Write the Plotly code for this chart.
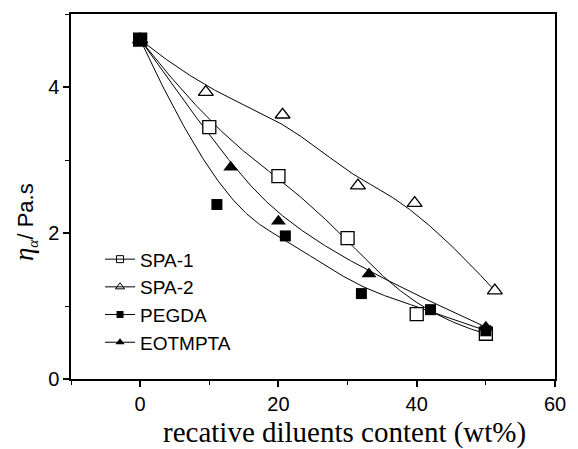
import numpy as np
import plotly.graph_objects as go

# ---- data ----
spa1_x = [0, 10, 20, 30, 40, 50]
spa1_y = [4.65, 3.45, 2.78, 1.93, 0.89, 0.62]
spa2_x = [0, 9.5, 20.6, 31.5, 39.7, 51.3]
spa2_y = [4.65, 3.93, 3.62, 2.65, 2.41, 1.21]
pegda_x = [0, 11.1, 21.0, 32.0, 42.0, 50.0]
pegda_y = [4.65, 2.39, 1.96, 1.17, 0.95, 0.66]
eot_x = [0, 13.1, 20.0, 33.1, 50.0]
eot_y = [4.65, 2.90, 2.16, 1.44, 0.71]
series_names = ["SPA-1", "SPA-2", "PEGDA", "EOTMPTA"]
x_ticks = [0, 20, 40, 60]
y_ticks = [0, 2, 4]


def bspline(xs, ys, k=3, n=300):
    """Clamped uniform B-spline using the data points as control points (Origin-style B-spline)."""
    P = np.column_stack([xs, ys]).astype(float)
    m = len(P)
    k = min(k, m - 1)
    knots = np.concatenate([np.zeros(k), np.linspace(0, 1, m - k + 1), np.ones(k)])
    t = np.linspace(0, 1, n)
    nb = len(knots) - 1
    N = np.zeros((n, nb))
    for i in range(nb):
        N[:, i] = (knots[i] <= t) & (t < knots[i + 1])
    last = np.max(np.where(knots[:-1] < knots[1:])[0])
    N[-1, :] = 0
    N[-1, last] = 1
    for d in range(1, k + 1):
        Nn = np.zeros((n, nb - d))
        for i in range(nb - d):
            a = knots[i + d] - knots[i]
            b = knots[i + d + 1] - knots[i + 1]
            term = np.zeros(n)
            if a > 0:
                term += (t - knots[i]) / a * N[:, i]
            if b > 0:
                term += (knots[i + d + 1] - t) / b * N[:, i + 1]
            Nn[:, i] = term
        N = Nn
    C = N @ P
    return C[:, 0], C[:, 1]


fig = go.Figure()
LINE = dict(color="black", width=1)

for xs, ys in [(spa2_x, spa2_y), (spa1_x, spa1_y), (pegda_x, pegda_y), (eot_x, eot_y)]:
    cx, cy = bspline(xs, ys)
    fig.add_trace(go.Scatter(x=cx, y=cy, mode="lines", line=LINE, showlegend=False, hoverinfo="skip"))

open_sq = dict(symbol="square", size=13, color="white", opacity=1, line=dict(color="black", width=1.3))
open_tri = dict(symbol="triangle-up", size=13, color="white", opacity=1, line=dict(color="black", width=1.3))
fill_sq = dict(symbol="square", size=[13] + [11] * (len(pegda_x) - 1), color="black", opacity=1,
               line=dict(color="black", width=0))
fill_tri = dict(symbol="triangle-up", size=13, color="black", opacity=1, line=dict(color="black", width=0))

fig.add_trace(go.Scatter(x=spa2_x, y=spa2_y, mode="markers", marker=open_tri, showlegend=False))
fig.add_trace(go.Scatter(x=spa1_x, y=spa1_y, mode="markers", marker=open_sq, showlegend=False))
fig.add_trace(go.Scatter(x=pegda_x, y=pegda_y, mode="markers", marker=fill_sq, showlegend=False))
fig.add_trace(go.Scatter(x=eot_x, y=eot_y, mode="markers", marker=fill_tri, showlegend=False))

# legend entries (line + small marker)
leg_markers = [
    dict(symbol="square-open", size=7, color="black", line=dict(width=1)),
    dict(symbol="triangle-up-open", size=8, color="black", line=dict(width=1)),
    dict(symbol="square", size=7, color="black"),
    dict(symbol="triangle-up", size=8, color="black"),
]
for name, mk in zip(series_names, leg_markers):
    fig.add_trace(go.Scatter(x=[None], y=[None], mode="lines+markers", name=name,
                             line=dict(color="black", width=1), marker=mk))

axis_common = dict(
    showline=True, linecolor="black", linewidth=1.5, mirror=True,
    ticks="outside", ticklen=6, tickwidth=1.5, tickcolor="black",
    showgrid=False, zeroline=False,
    tickfont=dict(family="Liberation Sans, Arial", size=20, color="black"),
)

fig.update_xaxes(range=[-10, 60], tickvals=x_ticks, **axis_common,
                 minor=dict(ticks="outside", ticklen=4, tickwidth=1, tickcolor="black", tickvals=[-10, 10, 30, 50]))
fig.update_yaxes(range=[0, 5], tickvals=y_ticks, **axis_common,
                 minor=dict(ticks="outside", ticklen=4, tickwidth=1, tickcolor="black", tickvals=[1, 3, 5]))

fig.update_layout(
    width=578, height=449,
    margin=dict(l=71, r=14, t=13, b=70),
    paper_bgcolor="white", plot_bgcolor="white",
    showlegend=True,
    legend=dict(x=0.06, y=0.38, xanchor="left", yanchor="top",
                bgcolor="rgba(0,0,0,0)", borderwidth=0,
                font=dict(family="Liberation Sans, Arial", size=19, color="black"),
                tracegroupgap=0, itemwidth=30),
    annotations=[
        dict(text="recative diluents content (wt%)", xref="paper", yref="paper",
             x=0.566, y=-0.196, xanchor="center", yanchor="bottom", showarrow=False,
             font=dict(family="Liberation Serif, Times New Roman", size=29, color="black")),
        dict(text='<span style="font-family:Liberation Serif;font-size:27px"><i>η</i></span>'
                  '<sub><span style="font-family:Liberation Serif"><i>α</i></span></sub>/ Pa.s',
             xref="paper", yref="paper", x=-0.095, y=0.43, xanchor="center", yanchor="middle",
             textangle=-90, showarrow=False,
             font=dict(family="Liberation Sans, Arial", size=22, color="black")),
    ],
)

fig.write_html("out.html")
